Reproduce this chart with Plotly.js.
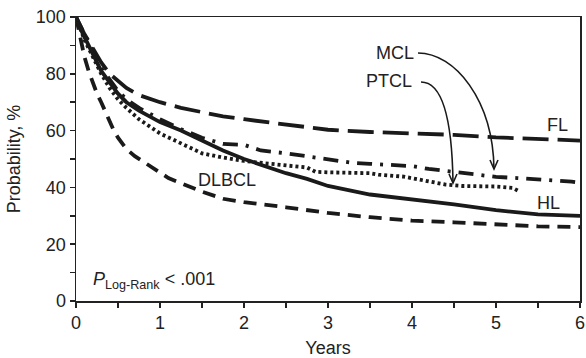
<!DOCTYPE html>
<html>
<head>
<meta charset="utf-8">
<script src="https://cdn.plot.ly/plotly-3.0.1.min.js"></script>
<style>html,body{margin:0;padding:0;background:#fff;}#chart{width:586px;height:358px;}</style>
</head>
<body>
<div id="chart"></div>
<script>
// Survival curves (years, probability %)
const flYears   = [0,0.05,0.1,0.2,0.3,0.4,0.5,0.6,0.75,0.9,1.0,1.25,1.5,1.75,2,2.5,2.8,3,3.5,4,4.5,5,5.5,6];
const flProb    = [100,97,94,89,84,80,77.5,75,72.5,71,70,68,66.5,65,64,62,61,60.3,59.5,59,58.5,57.6,57,56.5];

const mclYears  = [0,0.05,0.1,0.2,0.3,0.4,0.5,0.6,0.75,1.0,1.25,1.5,1.65,1.75,2,2.2,2.5,2.65,2.8,3.1,3.3,3.5,3.75,4.0,4.2,4.5,4.85,5.0,5.25,5.45,5.9,6];
const mclProb   = [100,97,94,88,82,78,74,71,68,64,60.5,57.5,56,55.3,55,53,52,51.4,50.7,49.5,48.6,48.3,47.9,47.5,46.5,45.5,44.4,43.7,43.3,43,42,41.6];

const ptclYears = [0,0.05,0.1,0.2,0.3,0.4,0.5,0.6,0.75,1.0,1.25,1.5,1.75,2,2.25,2.5,2.75,2.85,3,3.5,3.6,3.9,4.2,4.4,4.6,5.0,5.2,5.27];
const ptclProb  = [100,96,92,86,80,75,71,68,64,59,55.5,52,50.5,49.3,48.5,47.8,47,45.5,45.3,45,44.5,43.8,42.3,41,40.5,40.3,39.8,38.7];

const hlYears   = [0,0.05,0.1,0.2,0.3,0.4,0.5,0.6,0.75,1.0,1.25,1.5,1.75,2,2.25,2.5,2.75,3,3.5,4,4.25,4.5,5,5.5,6];
const hlProb    = [100,96,93,87,81,77,73,70,67,63,60,56.5,53,50,47.5,45,43,40.5,37.5,35.8,35,34,32,30.5,30];

const dlbclYears= [0,0.05,0.1,0.15,0.2,0.25,0.3,0.35,0.4,0.45,0.5,0.6,0.7,0.8,0.9,1.0,1.1,1.25,1.5,1.75,2,2.5,3,3.5,4,4.5,5,5.5,6];
const dlbclProb = [100,93,86,81,76.5,73,70,66.5,63,60,57.5,53.5,51,49,47,45,43.3,41.5,38.5,36,34.8,33,31,29.5,28.3,27.7,27,26.3,26];

const seriesNames = ['FL','MCL','PTCL','HL','DLBCL'];
const xTitle = 'Years';
const yTitle = 'Probability, %';

const ink = '#1a1a1a';
const font = 'Liberation Sans, Arial, Helvetica, sans-serif';

function tr(x, y, name, dash){
  return {x:x, y:y, name:name, type:'scatter', mode:'lines',
          line:{color:ink, width:3.8, dash:dash}, hoverinfo:'skip'};
}
const data = [
  tr(flYears, flProb, seriesNames[0], '26px,9px'),
  tr(mclYears, mclProb, seriesNames[1], '15px,8px,3px,8px'),
  tr(ptclYears, ptclProb, seriesNames[2], '3px,3px'),
  tr(hlYears, hlProb, seriesNames[3], 'solid'),
  tr(dlbclYears, dlbclProb, seriesNames[4], '13px,8px')
];

// pixel -> data helpers for annotation decorations
const X0=76, XPX=84, Y0=301, YPX=2.84;
const dx = px => (px - X0)/XPX;
const dy = py => (Y0 - py)/YPX;

function curve(p0,p1,p2,p3){
  return `M${dx(p0[0])},${dy(p0[1])} C${dx(p1[0])},${dy(p1[1])} ${dx(p2[0])},${dy(p2[1])} ${dx(p3[0])},${dy(p3[1])}`;
}
function head(t){
  return `M${dx(t[0]-4)},${dy(t[1]-9)} L${dx(t[0])},${dy(t[1])} L${dx(t[0]+4)},${dy(t[1]-9)}`;
}
const mclTip=[494,169], ptclTip=[453,183];
const shapes = [
  {type:'path', xref:'x', yref:'y', path:curve([418,53],[455,53],[493,100],mclTip), line:{color:ink,width:1.6}},
  {type:'path', xref:'x', yref:'y', path:head(mclTip), line:{color:ink,width:1.6}},
  {type:'path', xref:'x', yref:'y', path:curve([421,82],[440,82],[452,110],ptclTip), line:{color:ink,width:1.6}},
  {type:'path', xref:'x', yref:'y', path:head(ptclTip), line:{color:ink,width:1.6}}
];

const txt = (s,x,y,xa) => ({text:s, x:x, y:y, xref:'x', yref:'y', showarrow:false,
  xanchor:xa||'center', yanchor:'middle', font:{family:font,size:18,color:'#222'}});
const annotations = [
  txt('MCL', dx(395), dy(53)),
  txt('PTCL', dx(389), dy(81)),
  txt('FL', dx(557), dy(125)),
  txt('HL', dx(548), dy(203)),
  txt('DLBCL', dx(227), dy(180)),
  txt('<i>P</i><sub>Log-Rank</sub> &lt; .001', dx(91), dy(280), 'left')
];

const layout = {
  width:586, height:358,
  margin:{l:76, r:6, t:17, b:57},
  paper_bgcolor:'#fff', plot_bgcolor:'#fff',
  showlegend:false,
  font:{family:font, size:18, color:'#222'},
  xaxis:{range:[0,6], dtick:1, tick0:0, ticks:'outside', ticklen:5, tickwidth:1.5, tickcolor:'#222',
         showline:true, linewidth:1.5, linecolor:'#222', mirror:true, showgrid:false, zeroline:false,
         minor:{dtick:0.5, ticks:'outside', ticklen:5, tickwidth:1.5, tickcolor:'#222'},
         tickfont:{family:font,size:18,color:'#222'},
         title:{text:xTitle, font:{family:font,size:18,color:'#222'}, standoff:10}},
  yaxis:{range:[0,100], dtick:20, tick0:0, ticks:'outside', ticklen:5, tickwidth:1.5, tickcolor:'#222',
         showline:true, linewidth:1.5, linecolor:'#222', mirror:true, showgrid:false, zeroline:false,
         minor:{dtick:10, ticks:'outside', ticklen:5, tickwidth:1.5, tickcolor:'#222'},
         tickfont:{family:font,size:18,color:'#222'},
         title:{text:yTitle, font:{family:font,size:18,color:'#222'}, standoff:10}},
  shapes:shapes,
  annotations:annotations
};

Plotly.newPlot('chart', data, layout, {staticPlot:true, displayModeBar:false});
</script>
</body>
</html>
